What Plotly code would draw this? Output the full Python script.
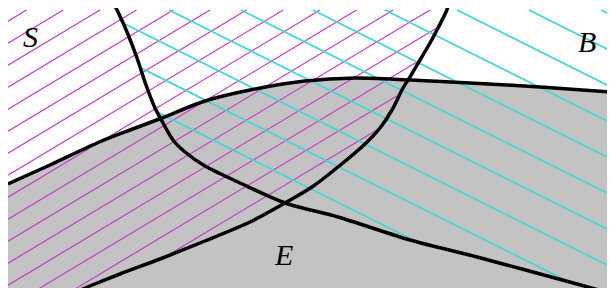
import numpy as np
import plotly.graph_objects as go

# ---- diagram data (page-pixel coordinates, y grows downward) ----
# boundary of shaded region E (concave curve)
curve_e_x = [8, 50, 97, 130, 162, 205, 250, 305, 355, 410, 470, 540, 623]
curve_e_y = [184, 165, 143, 130, 118, 101, 90, 81, 78, 80, 83, 87, 93]

# curve A: from top-left down to lower-right (bounds cyan hatch)
curve_a_x = [114, 118, 127, 137, 146, 155, 163, 173, 185, 205, 238, 285, 338, 410, 477, 577, 620]
curve_a_y = [4, 12, 32, 58, 85, 108, 123, 140, 152, 166, 182, 203, 217, 240, 257, 284, 296]

# curve B: from bottom-left up to top (bounds magenta hatch)
curve_b_x = [66, 85, 120, 160, 205, 250, 285, 312, 338, 365, 380, 392, 403, 410, 420, 430, 438, 446, 449]
curve_b_y = [296, 288, 274, 259, 241, 222, 203, 187, 167, 144, 128, 110, 88, 77, 60, 43, 28, 12, 4]

# hatch definitions: y = offset + slope * x
magenta_slope = -0.6
magenta_offsets = [4, 26, 48, 70, 92, 114, 136, 158, 180, 202, 224, 246, 268, 290, 312, 334, 356]
cyan_slope = 0.5
cyan_offsets = [-290.5, -254.5, -218.5, -182.5, -146.5, -110.5, -74.5, -38.5, -2.5, 33.5, 69.5]

labels = ["S", "B", "E"]
label_x = [30, 587, 283]
label_y = [36, 41, 254]

X0, X1, Y0, Y1 = 8, 623, 10, 296


def inside(px, py, poly):
    x = poly[:, 0]
    y = poly[:, 1]
    x2 = np.roll(x, -1)
    y2 = np.roll(y, -1)
    res = np.zeros(len(px), bool)
    for xi, yi, xj, yj in zip(x, y, x2, y2):
        if yi == yj:
            continue
        cond = ((yi > py) != (yj > py)) & (px < (xj - xi) * (py - yi) / (yj - yi) + xi)
        res ^= cond
    return res


def hatch(offsets, slope, poly):
    xs_all, ys_all = [], []
    xs = np.arange(X0, X1 + 0.01, 0.25)
    for c in offsets:
        ys = c + slope * xs
        m = inside(xs, ys, poly) & (ys >= Y0) & (ys <= Y1)
        idx = np.where(m)[0]
        if len(idx) == 0:
            continue
        runs = np.split(idx, np.where(np.diff(idx) > 1)[0] + 1)
        for r in runs:
            xs_all += [xs[r[0]], xs[r[-1]], None]
            ys_all += [ys[r[0]], ys[r[-1]], None]
    return xs_all, ys_all


poly_mag = np.array(list(zip(curve_b_x, curve_b_y)) + [(X0 - 5, Y0 - 10), (X0 - 5, Y1 + 5)], float)
poly_cyan = np.array(list(zip(curve_a_x, curve_a_y)) + [(X1 + 5, Y1 + 5), (X1 + 5, Y0 - 10)], float)

fig = go.Figure()

# shaded region E
fig.add_trace(go.Scatter(
    x=curve_e_x + [X1, X0], y=curve_e_y + [Y1, Y1],
    fill="toself", fillcolor="#c3c3c3", mode="lines",
    line=dict(width=0, color="#c3c3c3"), hoverinfo="skip", showlegend=False))

mx, my = hatch(magenta_offsets, magenta_slope, poly_mag)
fig.add_trace(go.Scatter(x=mx, y=my, mode="lines",
                         line=dict(color="#c43cc8", width=1.2),
                         hoverinfo="skip", showlegend=False))

cx, cy = hatch(cyan_offsets, cyan_slope, poly_cyan)
fig.add_trace(go.Scatter(x=cx, y=cy, mode="lines",
                         line=dict(color="#48d4d4", width=1.8),
                         hoverinfo="skip", showlegend=False))

for xs, ys in [(curve_e_x, curve_e_y), (curve_a_x, curve_a_y), (curve_b_x, curve_b_y)]:
    fig.add_trace(go.Scatter(x=xs, y=ys, mode="lines",
                             line=dict(color="black", width=3.5, shape="spline", smoothing=0.8),
                             hoverinfo="skip", showlegend=False))

for t, x, y in zip(labels, label_x, label_y):
    fig.add_annotation(x=x, y=y, text="<i>%s</i>" % t, showarrow=False,
                       font=dict(family="Liberation Serif, Times New Roman, serif", size=30, color="black"),
                       xanchor="center", yanchor="middle")

fig.update_layout(
    width=615, height=288, margin=dict(l=0, r=0, t=0, b=0),
    paper_bgcolor="white", plot_bgcolor="white",
    xaxis=dict(range=[8, 623], visible=False, fixedrange=True),
    yaxis=dict(range=[296, 8], visible=False, fixedrange=True),
)

fig.write_html("out.html")
